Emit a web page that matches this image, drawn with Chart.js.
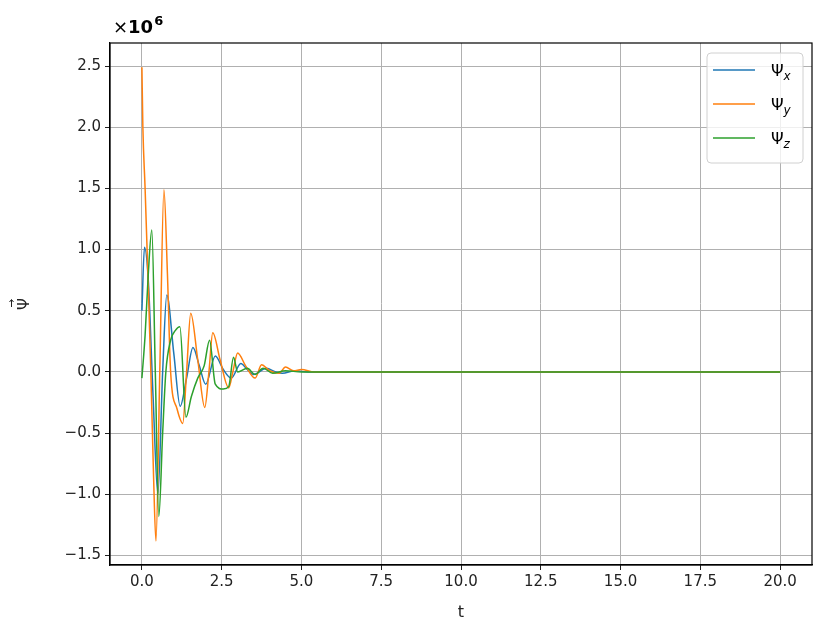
<!DOCTYPE html>
<html>
<head>
<meta charset="utf-8">
<script src="https://cdn.jsdelivr.net/npm/chart.js@4/dist/chart.umd.min.js"></script>
<style>
  body { margin: 0; background: #fff; }
  #wrap { width: 816px; height: 626px; position: relative; }
</style>
</head>
<body>
<div id="wrap"><canvas id="psiChart"></canvas></div>
<script>
// values in units of 1e6
const tX = [0, 0.08, 0.2, 0.35, 0.5, 0.65, 0.78, 1.0, 1.2, 1.4, 1.6, 1.8, 2.0, 2.3, 2.55, 2.8, 3.1, 3.3, 3.5, 3.9, 4.2, 4.4, 4.8, 5.2, 6, 8, 10, 12, 14, 16, 18, 20];
const psiX = [0.5, 1.02, 0.75, -0.2, -1.0, 0.0, 0.63, 0.15, -0.28, -0.05, 0.2, 0.05, -0.1, 0.13, 0.02, -0.05, 0.07, 0.02, -0.02, 0.03, 0, -0.01, 0.01, 0, 0, 0, 0, 0, 0, 0, 0, 0];

const tY = [0, 0.03, 0.1, 0.2, 0.28, 0.36, 0.44, 0.56, 0.69, 0.8, 0.9, 1.1, 1.28, 1.4, 1.53, 1.75, 1.97, 2.1, 2.22, 2.45, 2.72, 2.85, 3.0, 3.25, 3.55, 3.75, 4.0, 4.3, 4.5, 4.75, 5.0, 5.4, 6, 8, 10, 12, 14, 16, 18, 20];
const psiY = [2.49, 2.0, 1.5, 0.7, 0.0, -0.8, -1.38, 0.0, 1.49, 0.8, 0.0, -0.3, -0.42, 0.0, 0.48, 0.1, -0.29, 0.0, 0.32, 0.1, -0.13, 0.0, 0.155, 0.05, -0.05, 0.06, 0.01, -0.01, 0.04, 0.01, 0.02, 0, 0, 0, 0, 0, 0, 0, 0, 0];

const tZ = [0, 0.1, 0.2, 0.31, 0.42, 0.53, 0.65, 0.75, 0.9, 1.05, 1.19, 1.38, 1.55, 1.75, 1.95, 2.12, 2.3, 2.55, 2.72, 2.87, 3.0, 3.3, 3.55, 3.8, 4.1, 4.5, 5.0, 6, 8, 10, 12, 14, 16, 18, 20];
const psiZ = [-0.05, 0.3, 0.8, 1.16, 0.0, -1.18, -0.5, 0.0, 0.26, 0.34, 0.37, -0.37, -0.2, -0.05, 0.05, 0.26, -0.1, -0.14, -0.12, 0.12, 0.0, 0.03, -0.02, 0.03, -0.01, 0.01, 0, 0, 0, 0, 0, 0, 0, 0, 0];

const subNames = ['x', 'y', 'z'];
const colors = ['#1f77b4', '#ff7f0e', '#2ca02c'];
const xTicks = [0, 2.5, 5, 7.5, 10, 12.5, 15, 17.5, 20];
const yTicks = [-1.5, -1.0, -0.5, 0.0, 0.5, 1.0, 1.5, 2.0, 2.5];

const toPts = (ts, vs) => ts.map((t, i) => ({ x: t, y: vs[i] }));
const fmt = v => v.toFixed(1).replace('-', '\u2212');

// top/right spines, the x10^6 offset text, the vector arrow and the legend box
const extras = {
  id: 'extras',
  afterDraw(chart) {
    const { ctx, chartArea: a } = chart;
    ctx.save();
    ctx.strokeStyle = '#000';
    ctx.lineWidth = 1.2;
    ctx.strokeRect(a.left, a.top, a.right - a.left, a.bottom - a.top);

    ctx.fillStyle = '#000';
    ctx.textBaseline = 'alphabetic';
    let x = 113;
    ctx.font = '18px "DejaVu Sans"';
    ctx.fillText('×', x, 33);
    x += ctx.measureText('×').width;
    ctx.font = 'bold 18px "DejaVu Sans"';
    ctx.fillText('10', x, 33);
    x += ctx.measureText('10').width + 1;
    ctx.font = 'bold 13px "DejaVu Sans"';
    ctx.fillText('6', x, 25);

    // arrow over the rotated Ψ of the y title
    const cy = (a.top + a.bottom) / 2;
    ctx.strokeStyle = '#222';
    ctx.lineWidth = 1;
    ctx.beginPath();
    ctx.moveTo(11.5, cy + 3);
    ctx.lineTo(11.5, cy - 4);
    ctx.moveTo(9.5, cy - 2);
    ctx.lineTo(11.5, cy - 4.5);
    ctx.lineTo(13.5, cy - 2);
    ctx.stroke();

    // legend
    const bx = 707, by = 53, bw = 96, bh = 110, r = 4;
    ctx.beginPath();
    ctx.roundRect(bx, by, bw, bh, r);
    ctx.fillStyle = 'rgba(255,255,255,0.8)';
    ctx.fill();
    ctx.strokeStyle = '#d0d0d0';
    ctx.lineWidth = 1;
    ctx.stroke();
    chart.data.datasets.forEach((ds, i) => {
      const y = 70 + i * 34;
      ctx.strokeStyle = ds.borderColor;
      ctx.lineWidth = 1.5;
      ctx.beginPath();
      ctx.moveTo(713, y);
      ctx.lineTo(755, y);
      ctx.stroke();
      ctx.fillStyle = '#000';
      ctx.font = '16px "DejaVu Sans"';
      ctx.fillText('Ψ', 771, y + 6);
      const pw = ctx.measureText('Ψ').width;
      ctx.font = 'italic 12px "DejaVu Sans"';
      ctx.fillText(subNames[i], 771 + pw, y + 10);
    });
    ctx.restore();
  }
};

const series = [toPts(tX, psiX), toPts(tY, psiY), toPts(tZ, psiZ)];

new Chart(document.getElementById('psiChart'), {
  type: 'line',
  data: {
    datasets: series.map((pts, i) => ({
      label: 'Ψ' + subNames[i],
      data: pts,
      borderColor: colors[i],
      borderWidth: 1.5,
      pointRadius: 0,
      fill: false,
      cubicInterpolationMode: 'monotone',
      order: 3 - i
    }))
  },
  options: {
    responsive: true,
    maintainAspectRatio: false,
    animation: false,
    layout: { padding: { left: 0, top: 43, right: 4, bottom: 0 } },
    plugins: {
      legend: { display: false },
      tooltip: { enabled: false }
    },
    scales: {
      x: {
        type: 'linear',
        min: -1,
        max: 21,
        afterBuildTicks: s => { s.ticks = xTicks.map(v => ({ value: v })); },
        afterFit: s => { s.height = 61; },
        grid: { color: '#b0b0b0', lineWidth: 1, tickColor: '#222', tickLength: 5 },
        border: { display: true, color: '#000', width: 1.2 },
        ticks: {
          color: '#222',
          font: { family: 'DejaVu Sans', size: 15 },
          padding: 3,
          maxRotation: 0,
          callback: fmt
        },
        title: {
          display: true,
          text: 't',
          color: '#222',
          font: { family: 'DejaVu Sans', size: 16 },
          padding: { top: 0, bottom: 4 }
        }
      },
      y: {
        type: 'linear',
        min: -1.577,
        max: 2.688,
        afterBuildTicks: s => { s.ticks = yTicks.map(v => ({ value: v })); },
        afterFit: s => { s.width = 110; },
        grid: { color: '#b0b0b0', lineWidth: 1, tickColor: '#222', tickLength: 5 },
        border: { display: true, color: '#000', width: 1.2 },
        ticks: {
          color: '#222',
          font: { family: 'DejaVu Sans', size: 15 },
          padding: 4,
          callback: fmt
        },
        title: {
          display: true,
          text: 'Ψ',
          color: '#222',
          font: { family: 'DejaVu Sans', size: 15 },
          padding: { top: 16, bottom: 0 }
        }
      }
    }
  },
  plugins: [extras]
});
</script>
</body>
</html>
